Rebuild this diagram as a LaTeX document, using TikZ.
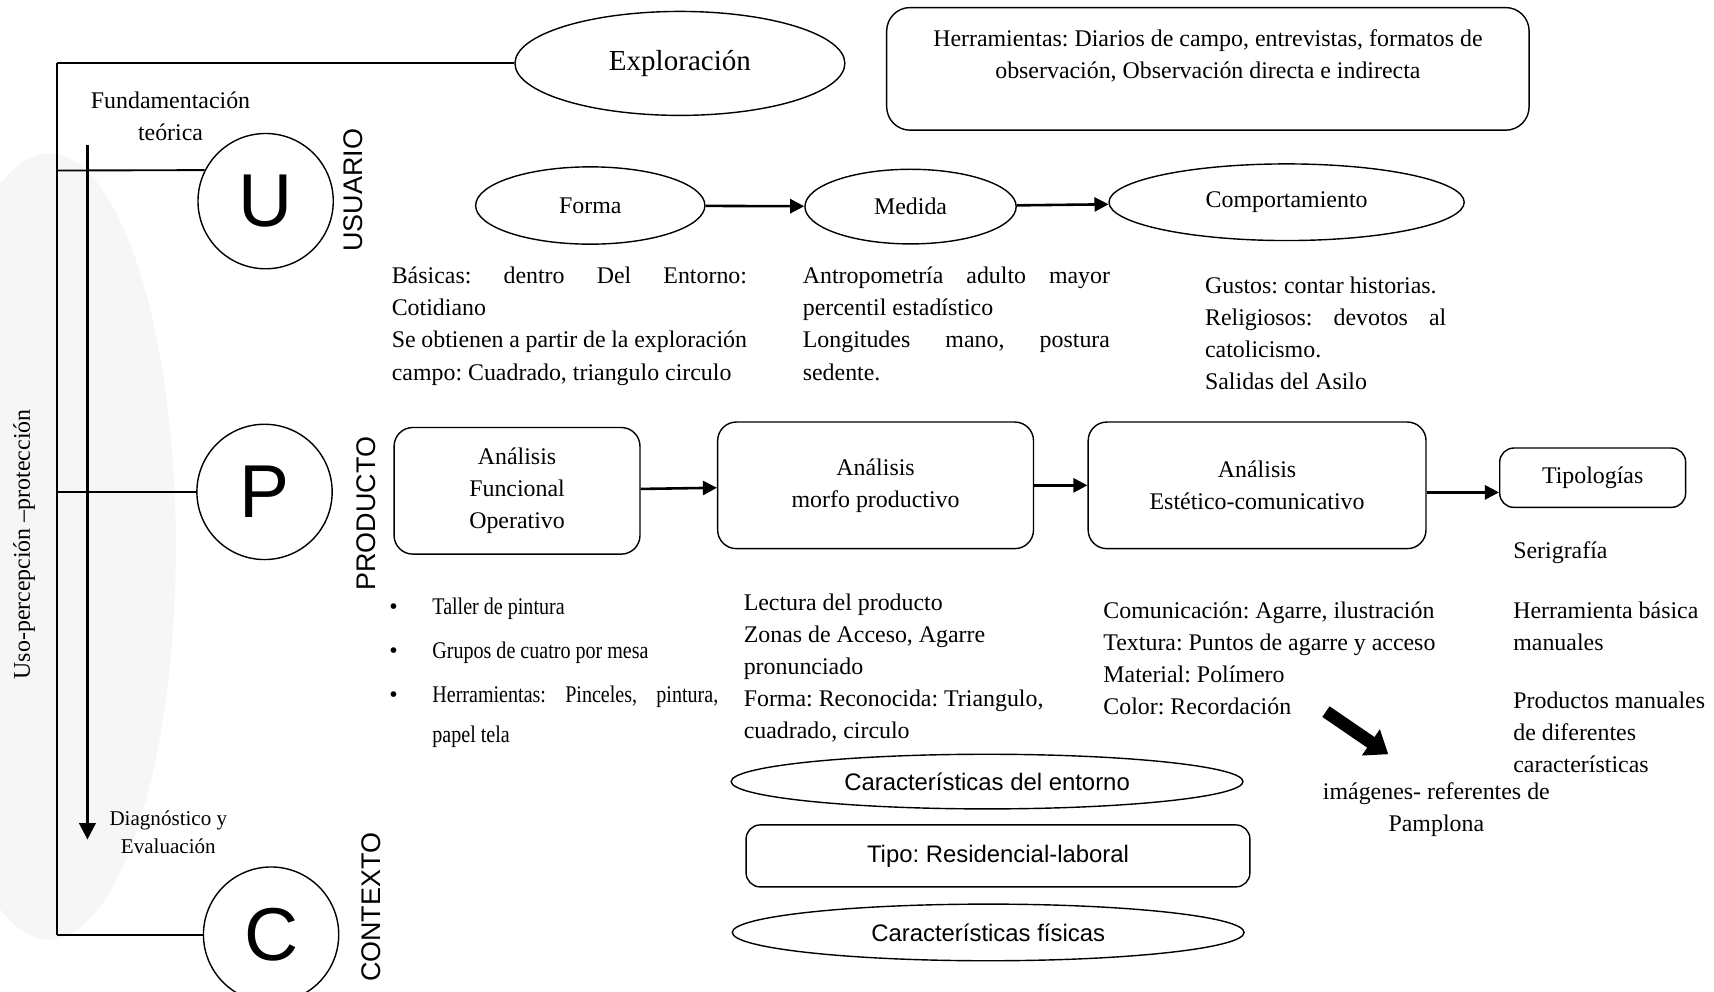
\documentclass[tikz,border=0pt]{standalone}
\usepackage{fontspec}
\setmainfont{Liberation Serif}
\setsansfont{Liberation Sans}
\newfontfamily\estrecha[FakeStretch=0.84]{Liberation Serif}
\usepackage{enumitem}
\usetikzlibrary{arrows.meta,positioning,shapes.geometric}
\definecolor{Fondo}{HTML}{F6F6F6}
\newcommand\cuerpo{\fontsize{10.2}{13.7}\selectfont}
\frenchspacing

\begin{document}
\begin{tikzpicture}[x=0.0164cm,y=-0.0164cm,font=\cuerpo,
  letra/.style={draw,line width=0.6pt,circle,minimum size=2.03cm,inner sep=0pt,font=\sffamily\fontsize{32}{32}\selectfont},
  eje/.style={rotate=90,font=\sffamily\fontsize{11.5}{12}\selectfont},
  ovalo/.style={draw,line width=0.6pt,ellipse,inner sep=0pt},
  caja/.style={draw,line width=0.6pt,rounded corners=8pt,align=center,inner sep=0pt},
  flecha/.style={line width=1.1pt,-{Triangle[length=6pt,width=6pt]}},
  texto/.style={anchor=north west,inner sep=0pt,align=justify}]

  \useasboundingbox (0,0) rectangle (1568,907);
  \fill[Fondo] (45,500) ellipse [x radius=1.9cm,y radius=5.9cm];

  % columna U P C
  \node[letra] (U) at (243,184) {U};
  \node[letra] (P) at (242,450) {P};
  \node[letra] (C) at (248,855) {C};
  \node[eje] (usuario) at (323,174) {USUARIO};
  \node[eje] (producto) at (335,470) {PRODUCTO};
  \node[eje] (contexto) at (340,830) {CONTEXTO};
  \node[align=center] (fund) at (156,106) {Fundamentación\\teórica};
  \node[align=center,font=\fontsize{9}{12}\selectfont] (diag) at (154,761) {Diagnóstico y\\Evaluación};
  \node[rotate=90] (uso) at (22,498) {Uso-percepción –protección};

  \node[ovalo,minimum width=4.95cm,minimum height=1.56cm,font=\fontsize{12.4}{14}\selectfont] (explo) at (622,58) {Exploración};
  \node[caja,rounded corners=10pt,minimum width=9.64cm,minimum height=1.84cm] (herr) at (1105,63) {};
  \node[anchor=north,align=center,inner sep=0pt] (herrtxt) at (1105,27) {Herramientas: Diarios de campo, entrevistas, formatos de\\observación, Observación directa e indirecta};

  \coordinate (sTop) at (52,58);
  \coordinate (sU) at (52,156);
  \coordinate (sP) at (52,450);
  \coordinate (sC) at (52,855);
  \coordinate (dTop) at (80,133);
  \coordinate (dEnd) at (80,768);
  \draw[line width=1pt] (sTop) -- (sC);
  \draw[line width=0.8pt] (sTop) -- (explo.west);
  \draw[line width=0.8pt] (sU) -- (U.153);
  \draw[line width=0.8pt] (sP) -- (P.west);
  \draw[line width=0.8pt] (sC) -- (C.west);
  \draw[line width=1.1pt,-{Triangle[length=7pt,width=7pt]}] (dTop) -- (dEnd);

  % usuario
  \node[ovalo,minimum width=3.44cm,minimum height=1.16cm] (forma) at (540,188) {Forma};
  \node[ovalo,minimum width=3.17cm,minimum height=1.12cm] (medida) at (833,189) {Medida};
  \node[ovalo,minimum width=5.33cm,minimum height=1.15cm] (comp) at (1177,185) {Comportamiento};
  \draw[flecha] (forma) -- (medida);
  \draw[flecha] (medida) -- (comp);

  \node[texto,text width=5.33cm] (formatxt) at (358,244) {Básicas: dentro Del Entorno:\linebreak Cotidiano\\Se obtienen a partir de la exploración\linebreak campo: Cuadrado, triangulo circulo};
  \node[texto,text width=4.61cm] (medidatxt) at (734,244) {Antropometría adulto mayor\linebreak percentil estadístico\\Longitudes mano, postura\linebreak sedente.};
  \node[texto,text width=3.62cm] (comptxt) at (1102,253) {Gustos: contar historias.\\Religiosos: devotos al\linebreak catolicismo.\\Salidas del Asilo};

  % producto
  \node[caja,minimum width=3.69cm,minimum height=1.90cm] (funcional) at (473,449) {Análisis\\Funcional\\Operativo};
  \node[caja,minimum width=4.74cm,minimum height=1.90cm] (morfo) at (801,444) {Análisis\\morfo productivo};
  \node[caja,minimum width=5.07cm,minimum height=1.90cm] (estetico) at (1150,444) {Análisis\\Estético-comunicativo};
  \node[caja,rounded corners=6pt,minimum width=2.79cm,minimum height=0.89cm] (tipologias) at (1457,437) {Tipologías};
  \draw[flecha] (funcional) -- (morfo);
  \draw[flecha] (morfo) -- (estetico);
  \draw[flecha] ([yshift=-3pt]estetico.east) -- ([yshift=-3pt]estetico.east -| tipologias.west);

  \node[texto,text width=5.03cm,font=\estrecha\fontsize{10.2}{17.2}\selectfont] (taller) at (350,525) {%
    \begin{itemize}[leftmargin=0.74cm,labelsep=0.52cm,label={\normalfont\textbullet},itemsep=1.45pt,parsep=0pt,topsep=0pt,partopsep=0pt]
      \item Taller de pintura
      \item Grupos de cuatro por mesa
      \item Herramientas: Pinceles, pintura,\linebreak papel tela
    \end{itemize}};
  \node[texto,align=left] (lectura) at (680,543) {Lectura del producto\\Zonas de Acceso, Agarre\\pronunciado\\Forma: Reconocida: Triangulo,\\cuadrado, circulo};
  \node[texto,align=left] (comunicacion) at (1009,550) {Comunicación: Agarre, ilustración\\Textura: Puntos de agarre y acceso\\Material: Polímero\\Color: Recordación};
  \node[texto,align=left] (serigrafia) at (1384,495) {Serigrafía\\[12pt]Herramienta básica\\manuales\\[11pt]Productos manuales\\de diferentes\\características};

  \node[align=center] (imagenes) at (1314,741) {imágenes- referentes de\\Pamplona};
  \coordinate (gTail) at (1213,651);
  \coordinate (gHead) at (1270,690);
  \draw[line width=5.5pt,-{Triangle[length=9pt,width=13pt]}] (gTail) -- (gHead);

  % contexto
  \node[ovalo,minimum width=7.68cm,minimum height=0.82cm,font=\sffamily\cuerpo] (entorno) at (903,715) {Características del entorno};
  \node[caja,rounded corners=6pt,minimum width=7.56cm,minimum height=0.93cm,font=\sffamily\cuerpo] (tipo) at (913,783) {Tipo: Residencial-laboral};
  \node[ovalo,minimum width=7.68cm,minimum height=0.85cm,font=\sffamily\cuerpo] (fisicas) at (904,853) {Características físicas};
\end{tikzpicture}
\end{document}
